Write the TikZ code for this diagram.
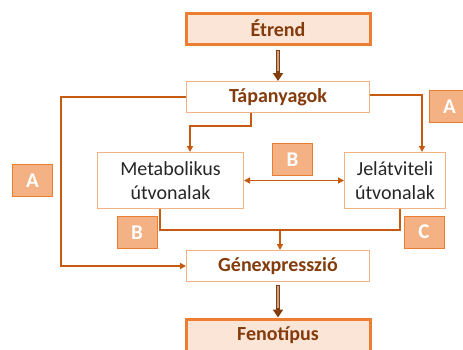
\documentclass[tikz,border=0pt]{standalone}
\usepackage{fontspec}
\setmainfont{Carlito}
\usetikzlibrary{arrows.meta,calc}
\definecolor{orgb}{HTML}{ED7D31}
\definecolor{orgl}{HTML}{F4B183}
\definecolor{peach}{HTML}{FBE5D6}
\definecolor{conn}{HTML}{C55A11}
\definecolor{brn}{HTML}{843C0C}
\definecolor{tanc}{HTML}{C9A48A}
\definecolor{txt}{HTML}{262626}
\tikzset{
  mainbox/.style={draw=orgb, line width=3pt, fill=peach, inner sep=0pt, text=brn,
    font=\fontsize{20}{24}\selectfont\bfseries},
  midbox/.style={draw=orgl, line width=1pt, fill=white, inner sep=0pt, text=brn,
    font=\fontsize{20}{24}\selectfont\bfseries},
  pathbox/.style={draw=orgl, line width=1pt, fill=white, inner sep=0pt, text=txt,
    align=center, font=\fontsize{20}{24}\selectfont},
  lbl/.style={draw=orgb, line width=1pt, fill=orgl, inner sep=0pt, text=white,
    minimum width=40pt, minimum height=32pt, font=\fontsize{21}{24}\selectfont\bfseries},
  con/.style={draw=conn, line width=1.4pt},
  arr/.style={con, -{Triangle[length=6pt,width=6pt]}},
  darr/.style={draw=brn, line width=4pt, -{Triangle[length=8pt,width=10pt]}},
  dinner/.style={draw=tanc, line width=1.6pt},
}
\begin{document}
\begin{tikzpicture}[x=1pt,y=-1pt]
\useasboundingbox (0,0) rectangle (463,349);
\node[mainbox, minimum width=184pt, minimum height=31pt] (et) at (278,28.5) {Étrend};
\node[midbox, minimum width=183pt, minimum height=31pt] (tap) at (278,97) {Tápanyagok};
\node[pathbox, minimum width=146pt, minimum height=56pt] (met) at (170.5,180.5) {Metabolikus\\útvonalak};
\node[pathbox, minimum width=101pt, minimum height=56pt] (jel) at (395,180.5) {Jelátviteli\\útvonalak};
\node[midbox, minimum width=183pt, minimum height=31pt] (gen) at (278,266) {Génexpresszió};
\node[mainbox, minimum width=184pt, minimum height=32pt] (fen) at (278,335) {Fenotípus};

\node[lbl] (lB1) at (292.5,159.5) {B};
\node[lbl] (lA1) at (32.5,180.5) {A};
\node[lbl] (lA2) at (449.5,106.5) {A};
\node[lbl] (lB2) at (137,232.5) {B};
\node[lbl] (lC) at (424,232) {C};

% double arrows
\draw[darr, shorten <=4pt] (et.south) -- (tap.north);
\draw[dinner, shorten <=5pt, shorten >=10pt] (et.south) -- (tap.north);
\draw[darr, shorten <=3pt] (gen.south) -- (fen.north);
\draw[dinner, shorten <=4pt, shorten >=10pt] (gen.south) -- (fen.north);

% connectors
\coordinate (tl) at (61,97);
\coordinate (bl) at (61,266);
\draw[arr] (tap.west) -- (tl) -- (bl) -- (gen.west);
\coordinate (tr) at (422,95);
\draw[arr] (tr -| tap.east) -- (tr) -- (tr |- jel.north);
\coordinate (m1) at (251,126);
\coordinate (m2) at (190,126);
\draw[arr] (m1 |- tap.south) -- (m1) -- (m2) -- (m2 |- met.north);
\draw[con, {Triangle[length=6pt,width=6pt]}-{Triangle[length=6pt,width=6pt]}] (met.east) -- (jel.west);
\coordinate (b1) at (160,230);
\coordinate (b2) at (400,230);
\coordinate (b3) at (280,230);
\draw[con] (b1 |- met.south) -- (b1) -- (b2) -- (b2 |- jel.south);
\draw[arr] (b3) -- (b3 |- gen.north);
\end{tikzpicture}
\end{document}
